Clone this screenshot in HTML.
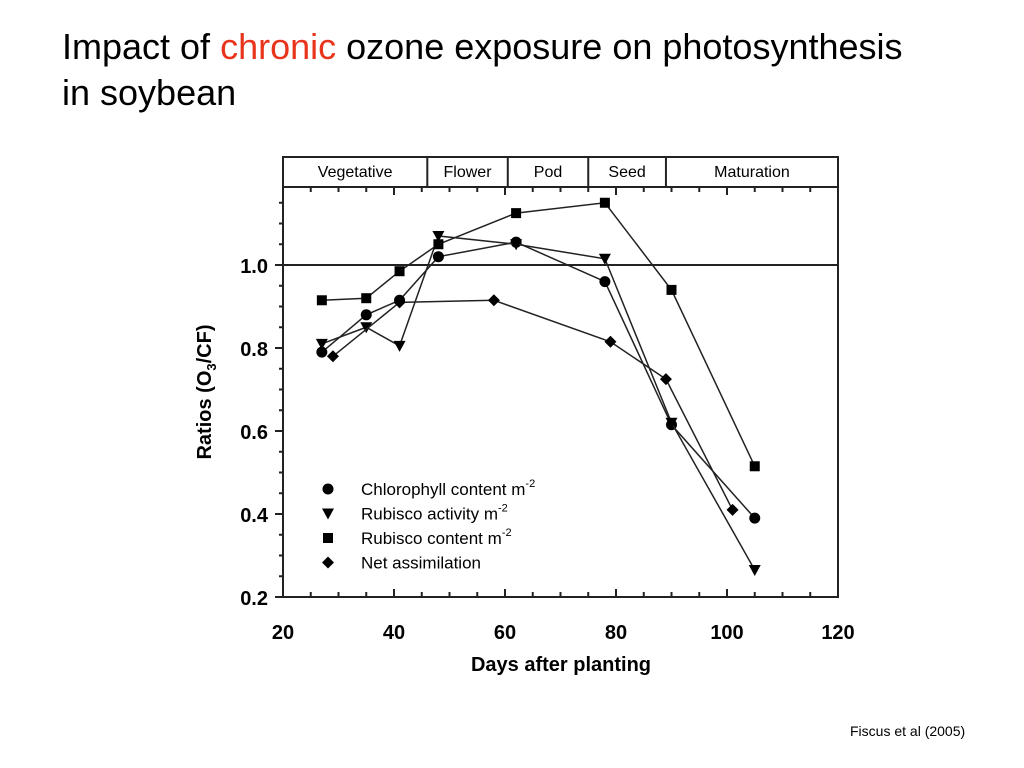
<!DOCTYPE html>
<html><head><meta charset="utf-8"><style>
body{margin:0;background:#fff;width:1024px;height:768px;overflow:hidden;font-family:"Liberation Sans",sans-serif}
.title{position:absolute;left:62px;top:24px;font-size:36px;line-height:46px;color:#000}
.cite{position:absolute;left:850px;top:723px;font-size:14px}
</style></head><body>
<div class="title">Impact of <span style="color:#e8341c">chronic</span> ozone exposure on photosynthesis<br>in soybean</div>
<svg id="chart" width="1024" height="768" style="position:absolute;left:0;top:0;pointer-events:none"></svg>
<div class="cite">Fiscus et al (2005)</div>
<script>
const xTicks=[20,40,60,80,100,120];
const yTicks=[0.2,0.4,0.6,0.8,1.0];
const phases=["Vegetative","Flower","Pod","Seed","Maturation"];
const phaseBounds=[20,46,60.5,75,89,120];
const chlX=[27,35,41,48,62,78,90,105];
const chlY=[0.79,0.88,0.915,1.02,1.055,0.96,0.615,0.39];
const ractX=[27,35,41,48,62,78,90,105];
const ractY=[0.81,0.85,0.805,1.07,1.05,1.015,0.62,0.265];
const rconX=[27,35,41,48,62,78,90,105];
const rconY=[0.915,0.92,0.985,1.05,1.125,1.15,0.94,0.515];
const netX=[29,41,58,79,89,101];
const netY=[0.78,0.91,0.915,0.815,0.725,0.41];
const legendLabels=["Chlorophyll content m","Rubisco activity m","Rubisco content m","Net assimilation"];

const svg=document.getElementById('chart');
const NS='http://www.w3.org/2000/svg';
const L=283,R=838,B=597,T=187,HT=157;
const x=v=>L+(v-20)*(R-L)/100;
const y=v=>B-(v-0.2)*(B-265)/0.8;
function mk(tag,attrs,name){const e=document.createElementNS(NS,tag);for(const k in attrs)e.setAttribute(k,attrs[k]);


svg.appendChild(e);return e;}
mk('rect',{x:L,y:HT,width:R-L,height:B-HT,fill:'none',stroke:'#222','stroke-width':2},'plot-frame');
mk('line',{x1:L,y1:T,x2:R,y2:T,stroke:'#222','stroke-width':2},'phase-header-border');
for(let i=0;i<phases.length;i++){
 if(i>0)mk('line',{x1:x(phaseBounds[i]),y1:HT,x2:x(phaseBounds[i]),y2:T,stroke:'#222','stroke-width':2},'phase-divider');
 const t=mk('text',{x:(x(phaseBounds[i])+x(phaseBounds[i+1]))/2,y:177,'text-anchor':'middle','font-size':16},'phase-label');t.textContent=phases[i];
}
mk('line',{x1:L,y1:y(1),x2:R,y2:y(1),stroke:'#222','stroke-width':2},'reference-line');
for(let v=20;v<=120;v+=5){const len=v%20===0?8:5;
 mk('line',{x1:x(v),y1:B,x2:x(v),y2:B-len,stroke:'#222','stroke-width':2},'x-tick');
 mk('line',{x1:x(v),y1:T,x2:x(v),y2:T+len,stroke:'#222','stroke-width':2},'x-tick-top');}
xTicks.forEach(v=>{const t=mk('text',{x:x(v),y:639,'text-anchor':'middle','font-size':20,'font-weight':'bold'},'x-tick-label');t.textContent=v;});
for(let k=0;k<=19;k++){const v=0.2+k*0.05;const maj=k%4===0;
 mk('line',{x1:L-(maj?8:4),y1:y(v),x2:L,y2:y(v),stroke:'#222','stroke-width':2},'y-tick');}
yTicks.forEach(v=>{const t=mk('text',{x:268,y:y(v)+8,'text-anchor':'end','font-size':20,'font-weight':'bold'},'y-tick-label');t.textContent=v.toFixed(1);});
const xt=mk('text',{x:561,y:671,'text-anchor':'middle','font-size':20,'font-weight':'bold'},'x-axis-title');xt.textContent='Days after planting';
const yt=mk('text',{x:0,y:0,'text-anchor':'middle','font-size':20,'font-weight':'bold',transform:'translate(211,392) rotate(-90)'},'y-axis-title');
yt.innerHTML='Ratios (O<tspan font-size="13" dy="5">3</tspan><tspan dy="-5">/CF)</tspan>';
function marker(type,cx,cy,name){
 if(type===0)return mk('circle',{cx,cy,r:5.5,fill:'#000'},name);
 if(type===1)return mk('polygon',{points:`${cx-6},${cy-5} ${cx+6},${cy-5} ${cx},${cy+6}`,fill:'#000'},name);
 if(type===2)return mk('rect',{x:cx-5,y:cy-5,width:10,height:10,fill:'#000'},name);
 return mk('polygon',{points:`${cx},${cy-6} ${cx+6},${cy} ${cx},${cy+6} ${cx-6},${cy}`,fill:'#000'},name);
}
const series=[[chlX,chlY,'chlorophyll'],[ractX,ractY,'rubisco-activity'],[rconX,rconY,'rubisco-content'],[netX,netY,'net-assimilation']];
series.forEach(([xs,ys,n],si)=>{
 mk('polyline',{points:xs.map((v,i)=>x(v)+','+y(ys[i])).join(' '),fill:'none',stroke:'#222','stroke-width':1.5},n+'-line');
 xs.forEach((v,i)=>marker(si,x(v),y(ys[i]),n+'-point'));
});
legendLabels.forEach((lab,i)=>{const ly=489+i*24.5;
 marker(i,328,ly,'legend-marker');
 const t=mk('text',{x:361,y:ly+6,'font-size':17},'legend-entry');
 t.textContent=lab;
 if(i<3){const s=document.createElementNS(NS,'tspan');s.setAttribute('dy','-8');s.setAttribute('font-size','11');s.textContent='-2';t.appendChild(s);}
});
</script>
</body></html>
